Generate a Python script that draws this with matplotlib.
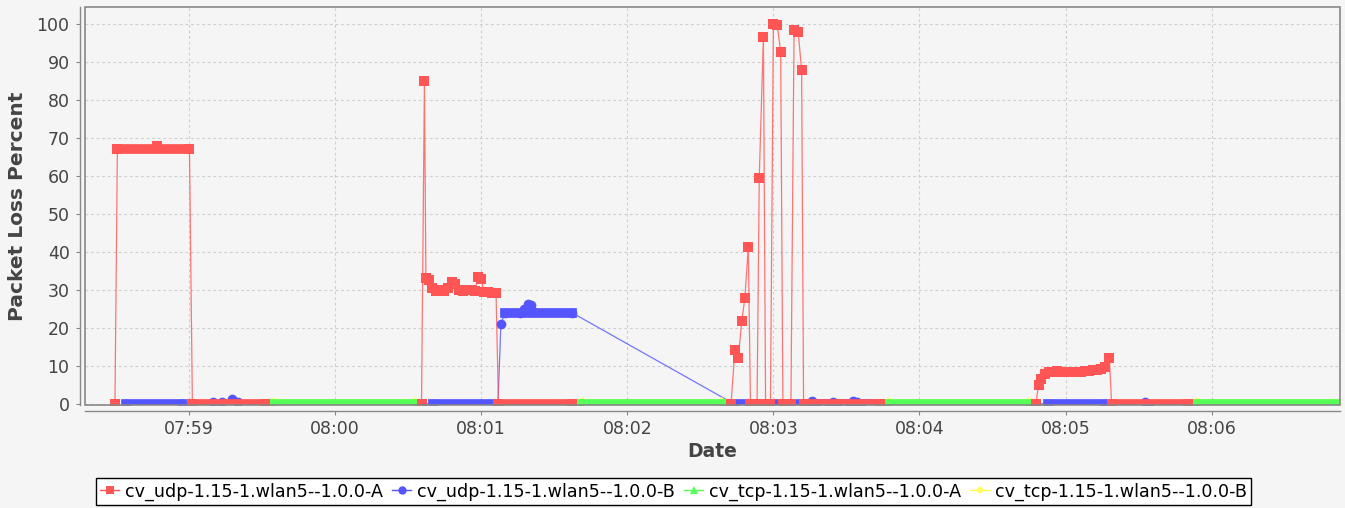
import matplotlib
matplotlib.use("Agg")
import matplotlib.pyplot as plt
from matplotlib.lines import Line2D
from matplotlib.patches import Rectangle

# all times are seconds after 07:58:00
tick_secs = [60, 120, 180, 240, 300, 360, 420, 480]
tick_labels = ["07:59", "08:00", "08:01", "08:02", "08:03", "08:04", "08:05", "08:06"]
y_ticks = [0, 10, 20, 30, 40, 50, 60, 70, 80, 90, 100]

names = ["cv_udp-1.15-1.wlan5--1.0.0-A", "cv_udp-1.15-1.wlan5--1.0.0-B",
         "cv_tcp-1.15-1.wlan5--1.0.0-A", "cv_tcp-1.15-1.wlan5--1.0.0-B"]

# cv_udp A (red)
udp_a_t = [29.6, 30.6, 46.9, 60.2, 61.4, 91.4,
           155.5, 156.7, 157.3, 158.6, 159.8, 161.4, 163.1, 164.7, 166.4, 168.0,
           169.2, 170.9, 172.5, 174.2, 175.8, 177.5, 178.7, 179.9, 181.2, 182.8,
           184.4, 186.1, 187.1, 217.5,
           282.6, 284.2, 285.6, 287.0, 288.3, 289.7, 290.6, 292.0, 293.3, 294.2,
           295.9, 296.8, 297.8, 298.8, 300.0, 301.6, 303.0, 303.9, 305.6, 307.2,
           308.5, 310.2, 311.6, 312.4, 343.6,
           407.8, 408.9, 410.1, 411.5, 413.2, 414.8, 416.5, 418.1, 419.8, 421.4,
           423.0, 424.7, 426.3, 428.0, 429.6, 431.3, 432.9, 434.5, 436.2, 438.0,
           438.9, 470.3]
udp_a_v = [0, 67.2, 67.9, 67.2, 0, 0,
           0, 85.0, 33.2, 32.5, 30.5, 29.8, 30.0, 29.8, 30.5, 32.0,
           31.5, 30.0, 29.8, 30.0, 30.0, 29.8, 33.5, 33.0, 29.5, 29.5,
           29.3, 29.3, 0, 0,
           0, 14.2, 12.1, 21.7, 27.9, 41.3, 0, 0, 0, 59.5,
           96.5, 0, 0, 0, 100.0, 99.7, 92.7, 0, 0, 0,
           98.5, 97.8, 87.9, 0, 0,
           0, 5.0, 6.5, 7.8, 8.3, 8.5, 8.6, 8.5, 8.4, 8.3,
           8.3, 8.4, 8.5, 8.6, 8.7, 8.8, 8.9, 9.2, 9.8, 12.0,
           0, 0]
# stretches where the samples are so dense that the markers merge into a bar
udp_a_runs = [(30.6, 60.2, 67.2), (61.4, 91.4, 0), (187.1, 217.5, 0),
              (312.4, 343.6, 0), (438.9, 470.3, 0)]

# cv_udp B (blue)
udp_b_t = [34.3, 57.3, 69.9, 73.6, 77.7, 80.1,
           160.2, 186.9, 188.1, 189.8, 196.0, 197.6, 199.2, 200.5, 201.7, 217.3,
           283.8, 314.3, 315.9, 317.5, 322.9, 324.5, 326.1, 331.1, 332.7, 334.3,
           335.9, 343.8,
           412.6, 435.6, 452.6, 454.2]
udp_b_v = [0, 0, 0.4, 0.5, 1.2, 0.5,
           0, 0, 21.0, 24.0, 24.0, 25.0, 26.2, 26.0, 24.3, 24.0,
           0, 0, 0.7, 0, 0, 0.6, 0, 0, 0.8, 0.6,
           0, 0,
           0, 0, 0.5, 0]
udp_b_runs = [(34.3, 57.3, 0), (160.2, 186.9, 0), (189.8, 217.3, 24.0),
              (283.8, 343.8, 0), (412.6, 435.6, 0)]

# cv_tcp A (green)
tcp_a_t = [95.1, 153.0, 221.4, 278.9, 347.5, 405.0, 474.0, 534.7]
tcp_a_v = [0, 0, 0, 0, 0, 0, 0, 0]
tcp_a_runs = [(95.1, 153.0, 0), (221.4, 278.9, 0), (347.5, 405.0, 0), (474.0, 534.7, 0)]

# cv_tcp B (yellow)
tcp_b_t = [95.1, 153.0, 221.4, 278.9, 347.5, 405.0, 474.0, 534.7]
tcp_b_v = [0, 0, 0, 0, 0, 0, 0, 0]
tcp_b_runs = [(95.1, 153.0, 0), (221.4, 278.9, 0), (347.5, 405.0, 0), (474.0, 534.7, 0)]

bg = "#f5f5f5"
txt = "#444444"
edge = "#888888"

fig = plt.figure(figsize=(13.45, 5.08), dpi=100, facecolor=bg)
ax = fig.add_axes([85 / 1345, 103 / 508, 1255 / 1345, 398 / 508])
ax.set_facecolor(bg)

# drawn back to front: tcp B, tcp A, udp B, udp A (lines first, then markers)
series = [
    (tcp_b_t, tcp_b_v, tcp_b_runs, "#ffff55", "D"),
    (tcp_a_t, tcp_a_v, tcp_a_runs, "#55ff55", "^"),
    (udp_b_t, udp_b_v, udp_b_runs, "#5555ff", "o"),
    (udp_a_t, udp_a_v, udp_a_runs, "#ff5555", "s"),
]
for i, (t, v, runs, c, m) in enumerate(series):
    ax.plot(t, v, color=c, lw=0.9, alpha=0.8, zorder=2 + i * 0.01)
for i, (t, v, runs, c, m) in enumerate(series):
    for t0, t1, val in runs:
        ax.plot([t0, t1], [val, val], color=c, lw=7,
                solid_capstyle="projecting", zorder=3 + i * 0.1)
    ax.plot(t, v, ls="none", marker=m, ms=7, color=c, mew=0,
            zorder=3 + i * 0.1 + 0.05)

ax.set_xlim(17.3, 532.7)
ax.set_ylim(-0.3, 104.5)
ax.set_xticks(tick_secs)
ax.set_xticklabels(tick_labels)
ax.set_yticks(y_ticks)

ax.grid(True, color="#cfcfcf", linestyle=(0, (2.5, 2.5)), linewidth=0.8)
ax.set_axisbelow(True)

for s in ["top", "right"]:
    ax.spines[s].set_visible(False)
ax.spines["left"].set_position(("outward", 3.6))
ax.spines["bottom"].set_position(("outward", 4.3))
for s in ["left", "bottom"]:
    ax.spines[s].set_color(edge)
    ax.spines[s].set_linewidth(1.0)
ax.add_patch(Rectangle((0, 0), 1, 1, transform=ax.transAxes, fill=False,
                       edgecolor=edge, lw=1.2, clip_on=False, zorder=5))

ax.tick_params(axis="both", colors=edge, labelcolor=txt, labelsize=12.5,
               length=3, width=0.8)
ax.tick_params(axis="y", pad=4.5)
ax.tick_params(axis="x", pad=3.5)

ax.set_ylabel("Packet Loss Percent", fontsize=14.5, fontweight="bold", color=txt)
ax.yaxis.label.set_va("center")
ax.yaxis.set_label_coords(-0.054, 0.5)
ax.set_xlabel("Date", fontsize=13.5, fontweight="bold", color=txt)
ax.xaxis.label.set_va("center")
ax.xaxis.set_label_coords(0.5, -0.118)

handles = [Line2D([], [], color=c, marker=m, ms=6 if m != "D" else 4.5, mew=0, lw=1)
           for (_, _, _, c, m) in series[::-1]]
leg = fig.legend(handles, names, loc="center", bbox_to_anchor=(0.5007, 0.0325),
                 ncol=4, fontsize=12.6, frameon=True, fancybox=False,
                 edgecolor="black", facecolor="white", framealpha=1,
                 handlelength=1.1, handletextpad=0.3, columnspacing=0.55,
                 borderpad=0.25, borderaxespad=0)
leg.get_frame().set_linewidth(1.0)

fig.savefig("out.png", dpi=100, facecolor=bg)
